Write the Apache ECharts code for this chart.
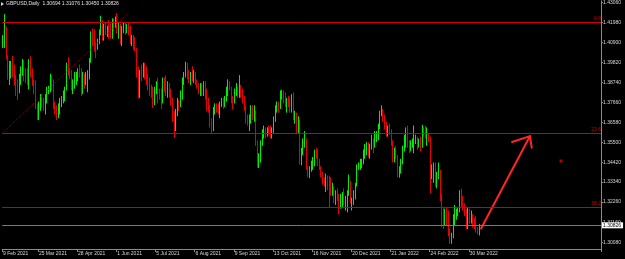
<!DOCTYPE html>
<html>
<head>
<meta charset="utf-8">
<script src="https://cdn.jsdelivr.net/npm/echarts@6/dist/echarts.min.js"></script>
<style>
html,body{margin:0;padding:0;background:#000;}
#c{width:625px;height:259px;}
</style>
</head>
<body>
<div id="c"></div>
<script>
// ---- data ----
// daily bars [open, close, low, high], from 23 Feb 2021 (weekdays only)
const candles = [
[1.4065,1.4110,1.4060,1.4130],[1.4105,1.4155,1.4060,1.4243],[1.4150,1.4010,1.4000,1.4175],[1.4010,1.3925,1.3888,1.4020],
[1.3925,1.3940,1.3860,1.3990],[1.3940,1.3955,1.3895,1.3990],[1.3955,1.3950,1.3900,1.4017],[1.3950,1.3890,1.3858,1.3970],[1.3890,1.3835,1.3800,1.3915],
[1.3835,1.3830,1.3778,1.3890],[1.3830,1.3885,1.3815,1.3920],[1.3885,1.3930,1.3860,1.3960],[1.3930,1.3990,1.3910,1.4000],[1.3990,1.3925,1.3880,1.3995],
[1.3925,1.3905,1.3870,1.3950],[1.3905,1.3880,1.3860,1.3950],[1.3880,1.3965,1.3835,1.4000],[1.3965,1.3930,1.3900,1.4015],[1.3930,1.3865,1.3855,1.3950],
[1.3865,1.3862,1.3810,1.3890],[1.3865,1.3745,1.3730,1.3885],[1.3745,1.3680,1.3670,1.3760],[1.3680,1.3740,1.3670,1.3770],[1.3740,1.3790,1.3720,1.3810],
[1.3790,1.3770,1.3740,1.3810],[1.3770,1.3740,1.3720,1.3790],[1.3740,1.3780,1.3700,1.3810],[1.3780,1.3830,1.3760,1.3850],[1.3830,1.3840,1.3810,1.3855],
[1.3840,1.3880,1.3820,1.3920],[1.3880,1.3876,1.3830,1.3910],[1.3880,1.3740,1.3730,1.3890],[1.3740,1.3730,1.3700,1.3770],[1.3730,1.3700,1.3670,1.3750],
[1.3700,1.3740,1.3680,1.3760],[1.3740,1.3745,1.3700,1.3790],[1.3745,1.3780,1.3740,1.3800],[1.3780,1.3790,1.3760,1.3830],[1.3790,1.3840,1.3770,1.3850],
[1.3840,1.3960,1.3830,1.3980],[1.3960,1.3930,1.3910,1.4009],[1.3930,1.3920,1.3890,1.3950],[1.3920,1.3870,1.3830,1.3940],[1.3870,1.3875,1.3810,1.3890],
[1.3875,1.3890,1.3840,1.3930],[1.3890,1.3910,1.3860,1.3930],[1.3910,1.3935,1.3880,1.3950],[1.3935,1.3930,1.3900,1.3970],[1.3930,1.3820,1.3800,1.3950],
[1.3820,1.3910,1.3810,1.3930],[1.3910,1.3890,1.3840,1.3920],[1.3890,1.3900,1.3860,1.3930],[1.3900,1.3905,1.3820,1.3940],[1.3905,1.3990,1.3890,1.4005],
[1.3990,1.4140,1.3980,1.4150],[1.4140,1.4130,1.4070,1.4166],[1.4130,1.4060,1.4040,1.4160],[1.4060,1.4058,1.4005,1.4090],[1.4060,1.4090,1.4050,1.4110],
[1.4090,1.4150,1.4080,1.4160],[1.4150,1.4200,1.4130,1.4234],[1.4200,1.4110,1.4100,1.4210],[1.4110,1.4180,1.4100,1.4190],[1.4180,1.4150,1.4130,1.4200],
[1.4150,1.4152,1.4120,1.4180],[1.4150,1.4148,1.4110,1.4210],[1.4150,1.4120,1.4110,1.4190],[1.4120,1.4200,1.4110,1.4220],[1.4200,1.4190,1.4150,1.4220],
[1.4190,1.4220,1.4170,1.4230],[1.4220,1.4150,1.4140,1.4249],[1.4150,1.4170,1.4110,1.4200],[1.4170,1.4090,1.4080,1.4190],[1.4090,1.4160,1.4070,1.4180],
[1.4160,1.4180,1.4140,1.4200],[1.4180,1.4160,1.4130,1.4200],[1.4160,1.4180,1.4140,1.4190],[1.4180,1.4170,1.4130,1.4200],[1.4170,1.4110,1.4080,1.4180],
[1.4110,1.4112,1.4070,1.4130],[1.4110,1.4100,1.4050,1.4130],[1.4100,1.4050,1.4040,1.4120],[1.4050,1.3920,1.3900,1.4060],[1.3920,1.3800,1.3787,1.3960],
[1.3800,1.3930,1.3790,1.3940],[1.3930,1.3928,1.3880,1.3970],[1.3930,1.3960,1.3900,1.3980],[1.3960,1.3930,1.3890,1.3980],[1.3930,1.3880,1.3860,1.3960],
[1.3880,1.3878,1.3830,1.3920],[1.3880,1.3840,1.3800,1.3900],[1.3840,1.3830,1.3790,1.3860],[1.3830,1.3760,1.3735,1.3850],[1.3760,1.3830,1.3750,1.3850],
[1.3830,1.3850,1.3810,1.3880],[1.3850,1.3810,1.3760,1.3900],[1.3810,1.3800,1.3780,1.3840],[1.3800,1.3770,1.3730,1.3840],[1.3770,1.3890,1.3760,1.3900],
[1.3890,1.3870,1.3820,1.3900],[1.3870,1.3810,1.3800,1.3910],[1.3810,1.3860,1.3790,1.3880],[1.3860,1.3830,1.3790,1.3870],[1.3830,1.3760,1.3750,1.3840],
[1.3760,1.3690,1.3660,1.3790],[1.3690,1.3620,1.3572,1.3720],[1.3620,1.3710,1.3610,1.3730],[1.3710,1.3760,1.3690,1.3790],[1.3760,1.3758,1.3720,1.3780],
[1.3760,1.3820,1.3740,1.3830],[1.3820,1.3890,1.3780,1.3900],[1.3890,1.3910,1.3860,1.3930],[1.3910,1.3960,1.3900,1.3985],[1.3960,1.3900,1.3890,1.3980],
[1.3900,1.3890,1.3870,1.3940],[1.3890,1.3910,1.3860,1.3930],[1.3910,1.3890,1.3880,1.3960],[1.3890,1.3920,1.3870,1.3940],[1.3920,1.3870,1.3860,1.3930],
[1.3870,1.3860,1.3840,1.3890],[1.3860,1.3840,1.3810,1.3870],[1.3840,1.3860,1.3800,1.3870],[1.3860,1.3820,1.3800,1.3870],[1.3820,1.3870,1.3800,1.3880],
[1.3870,1.3830,1.3780,1.3880],[1.3830,1.3740,1.3720,1.3840],[1.3740,1.3738,1.3710,1.3790],[1.3740,1.3640,1.3630,1.3750],[1.3640,1.3620,1.3600,1.3680],
[1.3620,1.3720,1.3610,1.3740],[1.3720,1.3740,1.3700,1.3760],[1.3740,1.3730,1.3710,1.3760],[1.3730,1.3710,1.3700,1.3760],[1.3710,1.3760,1.3680,1.3770],
[1.3760,1.3762,1.3740,1.3790],[1.3760,1.3758,1.3730,1.3790],[1.3760,1.3790,1.3740,1.3800],[1.3790,1.3840,1.3770,1.3850],[1.3840,1.3870,1.3800,1.3890],
[1.3870,1.3840,1.3830,1.3880],[1.3840,1.3790,1.3760,1.3850],[1.3790,1.3770,1.3727,1.3800],[1.3770,1.3830,1.3760,1.3840],[1.3830,1.3832,1.3800,1.3870],
[1.3830,1.3820,1.3790,1.3850],[1.3820,1.3830,1.3790,1.3913],[1.3830,1.3810,1.3790,1.3860],[1.3810,1.3780,1.3760,1.3840],[1.3780,1.3740,1.3720,1.3800],
[1.3740,1.3660,1.3650,1.3750],[1.3660,1.3658,1.3640,1.3700],[1.3660,1.3670,1.3610,1.3700],[1.3670,1.3740,1.3650,1.3750],[1.3740,1.3680,1.3670,1.3750],
[1.3680,1.3700,1.3660,1.3750],[1.3700,1.3550,1.3530,1.3720],[1.3550,1.3430,1.3412,1.3560],[1.3430,1.3470,1.3410,1.3490],[1.3470,1.3540,1.3440,1.3560],
[1.3540,1.3610,1.3530,1.3620],[1.3610,1.3612,1.3570,1.3640],[1.3610,1.3590,1.3570,1.3630],[1.3590,1.3620,1.3580,1.3630],[1.3620,1.3610,1.3590,1.3640],
[1.3610,1.3590,1.3570,1.3640],[1.3590,1.3610,1.3570,1.3630],[1.3610,1.3680,1.3600,1.3690],[1.3680,1.3740,1.3660,1.3750],[1.3740,1.3750,1.3710,1.3770],
[1.3750,1.3740,1.3710,1.3770],[1.3740,1.3820,1.3730,1.3830],[1.3820,1.3822,1.3780,1.3834],[1.3820,1.3780,1.3760,1.3830],[1.3780,1.3750,1.3740,1.3820],
[1.3750,1.3760,1.3710,1.3790],[1.3760,1.3758,1.3740,1.3800],[1.3760,1.3740,1.3710,1.3790],[1.3740,1.3800,1.3710,1.3810],[1.3800,1.3680,1.3670,1.3820],
[1.3680,1.3690,1.3650,1.3720],[1.3690,1.3610,1.3600,1.3710],[1.3610,1.3660,1.3600,1.3690],[1.3660,1.3490,1.3430,1.3670],[1.3490,1.3500,1.3425,1.3520],
[1.3500,1.3550,1.3480,1.3570],[1.3550,1.3560,1.3520,1.3610],[1.3560,1.3410,1.3400,1.3570],[1.3410,1.3400,1.3360,1.3420],[1.3400,1.3410,1.3355,1.3420],
[1.3410,1.3420,1.3390,1.3450],[1.3420,1.3440,1.3400,1.3470],[1.3440,1.3500,1.3420,1.3510],[1.3500,1.3498,1.3460,1.3520],[1.3500,1.3440,1.3420,1.3510],
[1.3440,1.3410,1.3400,1.3460],[1.3410,1.3370,1.3360,1.3420],[1.3370,1.3350,1.3320,1.3390],[1.3350,1.3330,1.3310,1.3360],[1.3330,1.3332,1.3280,1.3380],
[1.3330,1.3300,1.3290,1.3370],[1.3300,1.3298,1.3195,1.3370],[1.3300,1.3280,1.3260,1.3360],[1.3280,1.3300,1.3260,1.3330],[1.3300,1.3250,1.3220,1.3310],
[1.3250,1.3270,1.3210,1.3290],[1.3270,1.3250,1.3230,1.3300],[1.3250,1.3200,1.3160,1.3270],[1.3200,1.3260,1.3190,1.3270],[1.3260,1.3270,1.3200,1.3280],
[1.3270,1.3220,1.3210,1.3300],[1.3220,1.3240,1.3180,1.3260],[1.3240,1.3280,1.3170,1.3290],[1.3280,1.3330,1.3260,1.3375],[1.3330,1.3230,1.3220,1.3340],
[1.3230,1.3240,1.3180,1.3250],[1.3240,1.3270,1.3210,1.3290],[1.3270,1.3320,1.3240,1.3330],[1.3320,1.3420,1.3310,1.3430],[1.3420,1.3430,1.3400,1.3440],
[1.3430,1.3440,1.3400,1.3460],[1.3440,1.3442,1.3410,1.3460],[1.3440,1.3500,1.3430,1.3510],[1.3500,1.3510,1.3460,1.3540],[1.3510,1.3530,1.3480,1.3550],
[1.3530,1.3480,1.3470,1.3550],[1.3480,1.3530,1.3460,1.3540],[1.3530,1.3550,1.3510,1.3590],[1.3550,1.3540,1.3490,1.3570],[1.3540,1.3590,1.3520,1.3610],
[1.3590,1.3592,1.3550,1.3610],[1.3590,1.3630,1.3560,1.3650],[1.3630,1.3710,1.3620,1.3720],[1.3710,1.3712,1.3690,1.3749],[1.3710,1.3680,1.3660,1.3730],
[1.3680,1.3630,1.3620,1.3700],[1.3630,1.3590,1.3580,1.3660],[1.3590,1.3620,1.3580,1.3640],[1.3620,1.3600,1.3590,1.3650],[1.3600,1.3550,1.3530,1.3620],
[1.3550,1.3480,1.3440,1.3560],[1.3480,1.3500,1.3440,1.3520],[1.3500,1.3470,1.3460,1.3530],[1.3470,1.3390,1.3360,1.3480],[1.3390,1.3400,1.3358,1.3420],
[1.3400,1.3450,1.3380,1.3460],[1.3450,1.3510,1.3430,1.3530],[1.3510,1.3580,1.3500,1.3590],[1.3580,1.3600,1.3520,1.3630],[1.3600,1.3530,1.3520,1.3640],
[1.3530,1.3528,1.3490,1.3560],[1.3530,1.3532,1.3500,1.3560],[1.3530,1.3540,1.3520,1.3570],[1.3540,1.3550,1.3490,1.3640],[1.3550,1.3560,1.3540,1.3590],
[1.3560,1.3540,1.3510,1.3580],[1.3540,1.3542,1.3520,1.3570],[1.3540,1.3530,1.3500,1.3580],[1.3530,1.3620,1.3520,1.3644],[1.3620,1.3600,1.3580,1.3630],
[1.3600,1.3590,1.3570,1.3640],[1.3590,1.3592,1.3530,1.3630],[1.3590,1.3570,1.3550,1.3600],[1.3570,1.3390,1.3273,1.3580],[1.3390,1.3400,1.3350,1.3430],
[1.3400,1.3410,1.3330,1.3440],[1.3410,1.3320,1.3310,1.3440],[1.3320,1.3370,1.3300,1.3390],[1.3370,1.3390,1.3350,1.3440],[1.3390,1.3260,1.3230,1.3400],
[1.3260,1.3180,1.3090,1.3270],[1.3180,1.3110,1.3080,1.3200],[1.3110,1.3180,1.3100,1.3190],[1.3180,1.3170,1.3100,1.3200],[1.3170,1.3040,1.3040,1.3180],
[1.3040,1.3010,1.3000,1.3080],[1.3010,1.3040,1.3000,1.3060],[1.3040,1.3150,1.3030,1.3160],[1.3150,1.3170,1.3100,1.3210],[1.3170,1.3180,1.3130,1.3190],
[1.3180,1.3190,1.3150,1.3200],[1.3190,1.3270,1.3170,1.3290],[1.3270,1.3250,1.3200,1.3298],[1.3250,1.3190,1.3180,1.3260],[1.3190,1.3180,1.3150,1.3220],
[1.3180,1.3090,1.3080,1.3190],[1.3090,1.3180,1.3080,1.3200],[1.3180,1.3130,1.3110,1.3190],[1.3130,1.3140,1.3110,1.3180],[1.3140,1.3110,1.3090,1.3160],
[1.3110,1.3108,1.3080,1.3140],[1.3110,1.3070,1.3060,1.3150],[1.3070,1.3068,1.3050,1.3090],[1.30694,1.30826,1.30450,1.31076]
];
const totalSlots = 367;                 // bars that fit the window (incl. empty right shift)
const xLabelIndex = [0,22,46,70,94,118,142,166,190,214,238,262,286];
const xLabelText = ['9 Feb 2021','25 Mar 2021','28 Apr 2021','1 Jun 2021','5 Jul 2021','6 Aug 2021','9 Sep 2021','13 Oct 2021','16 Nov 2021','20 Dec 2021','21 Jan 2022','24 Feb 2022','30 Mar 2022'];
const yTicks = [1.4306,1.4198,1.4090,1.3982,1.3874,1.3766,1.3658,1.3550,1.3442,1.3334,1.3226,1.3116,1.3008];
const fibLevels = [1.42477,1.35895,1.31795];
const fibNames = ['0.0','23.6','38.2'];
const lastPrice = 1.30826;
const trendLine = [[0,1.3602],[77,1.4249]];
const arrowShaft = [[292.6,1.30826],[322.5,1.3583]];
const arrowHead = [[312.0,1.3551],[322.5,1.3583],[324.2,1.3520]];
const markerPoint = [[342,1.3448]];
const header = 'GBPUSD,Daily  1.30694 1.31076 1.30450 1.30826';

// categories: consecutive weekdays
const dates = [];
{ const d = new Date(Date.UTC(2021,1,23));
  while (dates.length < totalSlots) { const w = d.getUTCDay(); if (w !== 0 && w !== 6) dates.push(d.toISOString().slice(0,10)); d.setUTCDate(d.getUTCDate()+1); } }

const FONT = 'Liberation Sans, Arial, sans-serif';
const FIB_RED = '#d40000';
const chart = echarts.init(document.getElementById('c'), null, {renderer:'canvas'});
const showIdx = (i) => xLabelIndex.indexOf(i) >= 0;

const levelSeries = fibLevels.map((v,k)=>({
  type:'line', data:[], silent:true,
  markLine:{symbol:'none',silent:true,animation:false,
    lineStyle:{color:FIB_RED,width:1,type:'solid',opacity:1},
    label:{show:true,position:'insideEndTop',formatter:fibNames[k],color:FIB_RED,fontSize:5,fontFamily:FONT,distance:[0,1]},
    data:[{yAxis:v}]}
}));

chart.setOption({
  backgroundColor:'#000',
  animation:false,
  grid:{left:0,right:24,top:0,bottom:10,containLabel:false},
  xAxis:{
    type:'category', data:dates, boundaryGap:true,
    axisLine:{show:true,lineStyle:{color:'#8a8a8a',width:1}},
    axisTick:{show:true,interval:(i)=>showIdx(i),length:3,lineStyle:{color:'#8a8a8a'}},
    axisLabel:{interval:(i)=>showIdx(i),formatter:(v,i)=>{const k=xLabelIndex.indexOf(i);return k>=0?xLabelText[k]:'';},
      color:'#d8d8d8',fontSize:5,fontFamily:FONT,align:'left',margin:2,hideOverlap:false},
    splitLine:{show:false}
  },
  yAxis:{
    type:'value', position:'right', min:1.29718, max:1.43151, scale:true,
    axisLine:{show:true,lineStyle:{color:'#8a8a8a',width:1}},
    axisTick:{show:true,length:2,customValues:yTicks,lineStyle:{color:'#8a8a8a'}},
    axisLabel:{customValues:yTicks,formatter:(v)=>v.toFixed(5),color:'#d8d8d8',fontSize:5,fontFamily:FONT,margin:2,showMinLabel:true,showMaxLabel:true},
    splitLine:{show:false}
  },
  graphic:[
    {type:'polygon',shape:{points:[[1,2],[4,4],[1,6]]},style:{fill:'#cfcfcf'}},
    {type:'text',left:6,top:1.5,style:{text:header,fill:'#e0e0e0',font:'5px '+FONT}}
  ],
  series:[
    ...levelSeries,
    {
      type:'candlestick', data:candles, barWidth:1,
      itemStyle:{color:'#00ee00',color0:'#e60000',borderColor:'#00ee00',borderColor0:'#e60000',borderWidth:1},
      markLine:{
        symbol:'none', silent:true, animation:false,
        lineStyle:{color:'#6f7a86',width:1,type:'solid'},
        label:{show:true,position:'end',formatter:lastPrice.toFixed(5),color:'#000',backgroundColor:'#ffffff',fontSize:5,fontFamily:FONT,padding:[1,2,0,1],distance:1},
        data:[{yAxis:lastPrice}]
      }
    },
    {type:'line',data:trendLine,showSymbol:false,silent:true,lineStyle:{color:'#a00000',width:1,type:'dotted'}},
    {type:'line',data:arrowShaft,showSymbol:false,silent:true,lineStyle:{color:'#ff2626',width:2,cap:'round'}},
    {type:'line',data:arrowHead,showSymbol:false,silent:true,lineStyle:{color:'#ff2626',width:2,cap:'round',join:'round'}},
    {type:'scatter',data:markerPoint,symbol:'rect',symbolSize:3,silent:true,itemStyle:{color:'#e00000'}}
  ]
});
</script>
</body>
</html>
